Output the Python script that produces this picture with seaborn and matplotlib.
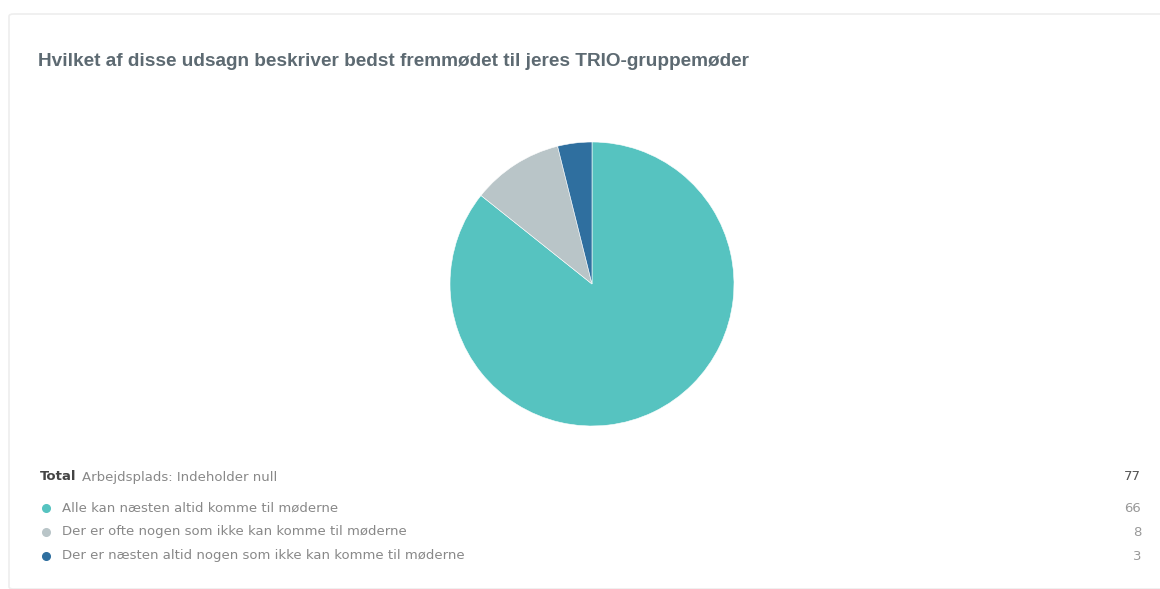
import matplotlib.pyplot as plt
import seaborn as sns
from matplotlib.patches import FancyBboxPatch

# data
labels = ["Alle kan næsten altid komme til møderne",
          "Der er ofte nogen som ikke kan komme til møderne",
          "Der er næsten altid nogen som ikke kan komme til møderne"]
counts = [66, 8, 3]
colors = ["#56c3c0", "#b9c5c8", "#2f6f9f"]
title = "Hvilket af disse udsagn beskriver bedst fremmødet til jeres TRIO-gruppemøder"
total_label = "Total"
filter_label = "Arbejdsplads: Indeholder null"

sns.set_theme(style="white")
plt.rcParams['font.family'] = ['DejaVu Sans']

W, H = 1160, 589
fig = plt.figure(figsize=(W / 100, H / 100), dpi=100)
fig.patch.set_facecolor("white")

# faint card outline
card = FancyBboxPatch((9 / W, 0), 1.2, 1 - 14 / H, boxstyle="round,pad=0,rounding_size=0.004",
                      transform=fig.transFigure, facecolor="white",
                      edgecolor="#eeeeee", linewidth=1.2, zorder=-5)
fig.patches.append(card)

fig.text(38 / W, 1 - 61 / H, title, fontsize=13.7, color="#5d6a72",
         fontweight="bold", va="center", ha="left", family=["Liberation Sans"])

# pie
cx, cy, r = 592, 284, 142
ax = fig.add_axes([(cx - r) / W, 1 - (cy + r) / H, 2 * r / W, 2 * r / H])
pal = sns.color_palette(colors)
ax.pie(counts, colors=pal, startangle=90, counterclock=False,
       wedgeprops=dict(linewidth=0.4, edgecolor="white"))
ax.set_xlim(-1, 1)
ax.set_ylim(-1, 1)
ax.set_aspect("equal")
ax.axis("off")

# legend table
fs = 9.5
fig.text(40 / W, 1 - 477 / H, total_label, fontsize=fs, color="#444444",
         fontweight="bold", va="center")
fig.text(82 / W, 1 - 477 / H, filter_label, fontsize=fs, color="#888888", va="center")
fig.text(1141 / W, 1 - 477 / H, str(sum(counts)), fontsize=fs, color="#555555",
         ha="right", va="center")

rows_y = [508, 532, 556]
for lab, n, c, y in zip(labels, counts, pal, rows_y):
    fig.text(62 / W, 1 - y / H, lab, fontsize=fs, color="#888888", va="center")
    fig.text(1141 / W, 1 - y / H, str(n), fontsize=fs, color="#999999",
             ha="right", va="center")
    fig.add_artist(plt.Line2D([46 / W], [1 - y / H], marker="o", markersize=5.5,
                              color=c, linestyle="none", transform=fig.transFigure))

fig.savefig("out.png", dpi=100, facecolor="white")
